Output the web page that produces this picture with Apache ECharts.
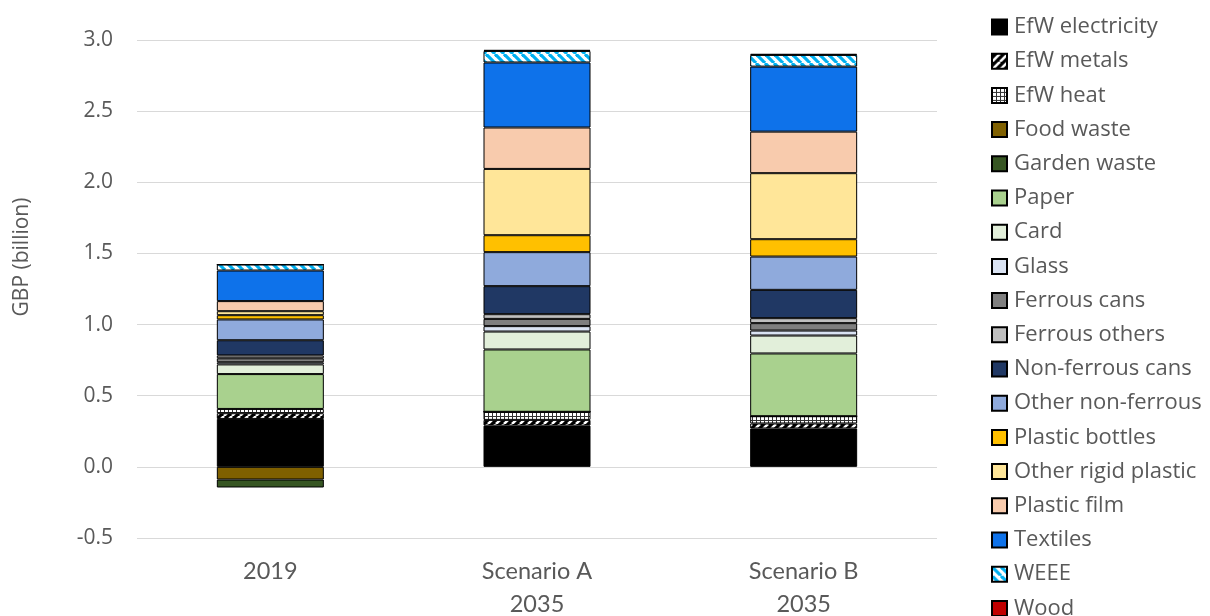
<!DOCTYPE html>
<html>
<head>
<meta charset="utf-8">
<script src="https://cdn.jsdelivr.net/npm/echarts@6/dist/echarts.min.js"></script>
<style>html,body{margin:0;padding:0;background:#fff}#c{width:1210px;height:616px}</style>
</head>
<body>
<div id="c"></div>
<script>
const categories = ['2019', 'Scenario A\n2035', 'Scenario B\n2035'];
const yTicks = [-0.5, 0.0, 0.5, 1.0, 1.5, 2.0, 2.5, 3.0];
const seriesNames = ['EfW electricity','EfW metals','EfW heat','Food waste','Garden waste','Paper','Card','Glass','Ferrous cans','Ferrous others','Non-ferrous cans','Other non-ferrous','Plastic bottles','Other rigid plastic','Plastic film','Textiles','WEEE','Wood'];
const efwElectricity   = [0.337, 0.290, 0.270];
const efwMetals        = [0.040, 0.040, 0.035];
const efwHeat          = [0.030, 0.057, 0.051];
const foodWaste        = [-0.089, 0, 0];
const gardenWaste      = [-0.056, 0, 0];
const paper            = [0.245, 0.438, 0.441];
const card             = [0.068, 0.126, 0.126];
const glass            = [0.015, 0.038, 0.035];
const ferrousCans      = [0.028, 0.051, 0.052];
const ferrousOthers    = [0.020, 0.033, 0.035];
const nonFerrousCans   = [0.107, 0.197, 0.199];
const otherNonFerrous  = [0.146, 0.239, 0.234];
const plasticBottles   = [0.030, 0.119, 0.122];
const otherRigidPlastic= [0.028, 0.466, 0.464];
const plasticFilm      = [0.071, 0.291, 0.292];
const textiles         = [0.215, 0.457, 0.457];
const weee             = [0.042, 0.081, 0.082];
const wood             = [0, 0.008, 0.008];

const seriesValues = [efwElectricity, efwMetals, efwHeat, foodWaste, gardenWaste, paper, card, glass, ferrousCans, ferrousOthers, nonFerrousCans, otherNonFerrous, plasticBottles, otherRigidPlastic, plasticFilm, textiles, weee, wood];

function makePattern(kind) {
  const c = document.createElement('canvas');
  const ctx = c.getContext('2d');
  if (kind === 'metals') {
    c.width = 8; c.height = 8;
    ctx.fillStyle = '#000'; ctx.fillRect(0,0,8,8);
    ctx.strokeStyle = '#fff'; ctx.lineWidth = 2.6;
    for (let k = -8; k <= 16; k += 8) {
      ctx.beginPath(); ctx.moveTo(k, 8); ctx.lineTo(k + 8, 0); ctx.stroke();
    }
  } else if (kind === 'heat') {
    c.width = 4; c.height = 4;
    ctx.fillStyle = '#fff'; ctx.fillRect(0,0,4,4);
    ctx.fillStyle = '#333';
    ctx.fillRect(0,0,4,1); ctx.fillRect(0,0,1,4);
  } else if (kind === 'weee') {
    c.width = 9; c.height = 9;
    ctx.fillStyle = '#fff'; ctx.fillRect(0,0,9,9);
    ctx.strokeStyle = '#00B0F0'; ctx.lineWidth = 3.2;
    for (let k = -9; k <= 18; k += 9) {
      ctx.beginPath(); ctx.moveTo(k, 0); ctx.lineTo(k + 9, 9); ctx.stroke();
    }
  }
  return { image: c, repeat: 'repeat' };
}

const colors = ['#000000', makePattern('metals'), makePattern('heat'), '#7F6000', '#375623', '#A9D18E', '#E2EFDA', '#DAE3F3', '#7F7F7F', '#BFBFBF', '#203864', '#8FAADC', '#FFC000', '#FFE699', '#F8CBAD', '#0E72EA', makePattern('weee'), '#C00000'];

const series = seriesNames.map((name, i) => ({
  name: name,
  type: 'bar',
  stack: 'total',
  barWidth: 107,
  data: seriesValues[i],
  itemStyle: { color: colors[i], borderColor: '#000', borderWidth: 1 },
  emphasis: { disabled: true },
  animation: false
}));

const chart = echarts.init(document.getElementById('c'), null, { renderer: 'canvas' });
chart.setOption({
  animation: false,
  grid: { left: 137, right: 273, top: 40, bottom: 78, containLabel: false, outerBoundsMode: 'none' },
  xAxis: {
    type: 'category',
    data: categories,
    axisLine: { show: false },
    axisTick: { show: false },
    axisLabel: { color: '#595959', fontFamily: 'Lato', fontSize: 23.5, lineHeight: 33, margin: 17 }
  },
  yAxis: {
    type: 'value',
    min: yTicks[0],
    max: yTicks[yTicks.length - 1],
    interval: 0.5,
    axisLine: { show: false },
    axisTick: { show: false },
    splitLine: { lineStyle: { color: '#D9D9D9', width: 1 } },
    axisLabel: { color: '#595959', fontFamily: 'Open Sans', fontSize: 21, margin: 24, formatter: v => v.toFixed(1) }
  },
  legend: {
    orient: 'vertical',
    left: 986,
    top: 10,
    height: 900,
    itemWidth: 15,
    itemHeight: 15,
    itemGap: 10.2,
    icon: 'rect',
    selectedMode: false,
    data: seriesNames,
    textStyle: { color: '#595959', fontFamily: 'Open Sans', fontSize: 22, lineHeight: 24, padding: [0, 0, 0, 2] }
  },
  graphic: [{
    type: 'text',
    x: 22, y: 257,
    rotation: Math.PI / 2,
    style: { text: 'GBP (billion)', fill: '#595959', font: '21px "Open Sans"', align: 'center', verticalAlign: 'middle' }
  }],
  series: series
});
</script>
</body>
</html>
